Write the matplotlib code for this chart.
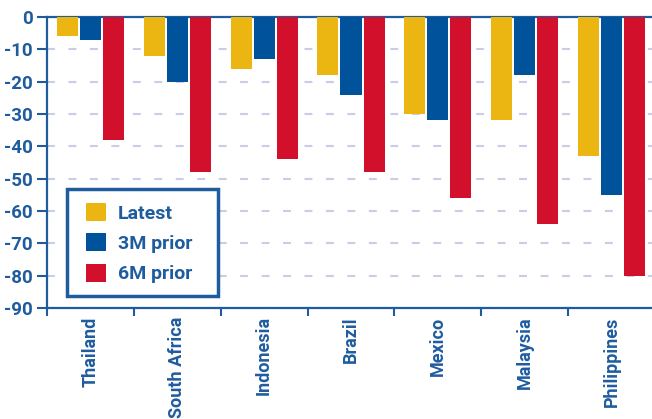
import matplotlib
matplotlib.use("Agg")
import matplotlib.pyplot as plt
from matplotlib.patches import Rectangle
import numpy as np

countries = ["Thailand", "South Africa", "Indonesia", "Brazil", "Mexico", "Malaysia", "Philippines"]
latest = [-6, -12, -16, -18, -30, -32, -43]
prior_3m = [-7, -20, -13, -24, -32, -18, -55]
prior_6m = [-38, -48, -44, -48, -56, -64, -80]
series_names = ["Latest", "3M prior", "6M prior"]
y_ticks = [0, -10, -20, -30, -40, -50, -60, -70, -80, -90]

colors = ["#EBB512", "#00539B", "#D2102C"]
ink = "#1F5C9E"
grid_col = "#C9CDE5"
fam = ["Roboto", "DejaVu Sans"]

plt.rcParams["font.family"] = fam

fig = plt.figure(figsize=(6.52, 4.19), dpi=100)
W, H = 652, 419
ax = fig.add_axes([47 / W, 1 - 308 / H, (655 - 47) / W, (308 - 17) / H])

x = np.arange(len(countries))
width = 0.242
offset = 0.265
for i, (vals, name) in enumerate(zip([latest, prior_3m, prior_6m], series_names)):
    ax.bar(x + (i - 1) * offset, vals, width, color=colors[i], label=name, zorder=3)

ax.set_xlim(-0.5, len(countries) - 0.5)
ax.set_ylim(-90, 0)
ax.set_yticks(y_ticks)
ax.set_yticklabels([str(v) for v in y_ticks], fontweight="bold", fontsize=13.5, color=ink)

ax.set_xticks(x)
ax.set_xticklabels(countries, rotation=90, fontweight="bold", fontsize=13, color=ink)
ax.set_xticks(np.arange(len(countries) + 1) - 0.5, minor=True)
ax.tick_params(axis="x", which="major", length=0, pad=6)
ax.tick_params(axis="x", which="minor", length=6, width=1.5, color=ink, direction="out")
ax.tick_params(axis="y", length=7, width=1.5, color=ink, pad=3)

for side in ["left", "bottom", "top"]:
    ax.spines[side].set_color(ink)
    ax.spines[side].set_linewidth(1.6)
ax.spines["right"].set_visible(False)

ax.yaxis.grid(True, color=grid_col, linewidth=1.5, linestyle=(0, (3.8, 6.5)), zorder=1)
ax.set_axisbelow(True)

# legend box with white fill and a heavy blue border
frame = Rectangle((67 / W, 1 - 296 / H), (218 - 67) / W, (296 - 189) / H,
                  transform=fig.transFigure, facecolor="white", edgecolor=ink,
                  linewidth=2.5, zorder=5, clip_on=False)
ax.add_patch(frame)

leg = ax.legend(loc="upper left", bbox_to_anchor=(86 / W, 1 - 203 / H),
                bbox_transform=fig.transFigure, borderaxespad=0, borderpad=0,
                prop={"family": fam, "weight": "bold", "size": 14},
                handlelength=1.05, handleheight=1.05,
                handletextpad=0.6, labelspacing=0.55, frameon=False)
leg.set_zorder(6)
for t in leg.get_texts():
    t.set_color(ink)

fig.savefig("out.png", dpi=100)
